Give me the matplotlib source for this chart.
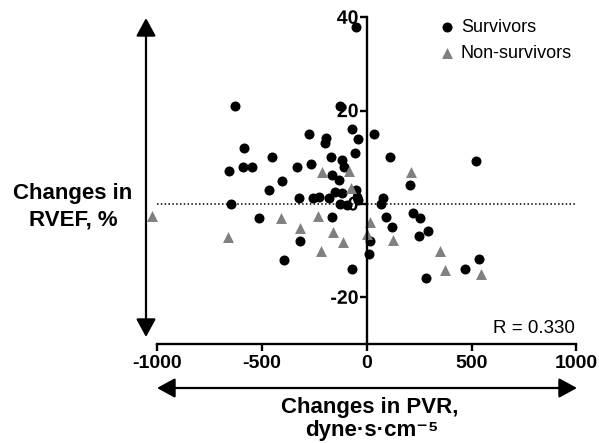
"""
plot.py
-------
Changes in RVEF against changes in PVR, survivors vs non-survivors.
"""

import matplotlib
matplotlib.use("Agg")
import matplotlib.pyplot as plt
import matplotlib.patheffects as pe
from matplotlib.patches import FancyArrowPatch

plt.rcParams["font.family"] = ["Liberation Sans", "DejaVu Sans"]
plt.rcParams["axes.unicode_minus"] = False


# --------------------------------------------------------------------
# Data
# --------------------------------------------------------------------

surv_pvr = [
    -50, -627, -127, -274, -194, -199, -72, -43, 35, -585,
    -454, -55, -172, -117, -655, -589, -547, -332, -266, -108,
    -165, -131, -403, -465, -53, -151, -120, -324, -258, -226,
    -181, -128, -95, -40, -48, -649, 79, 66, 522, 111,
    206, -513, -167, -320, -395, -71, 17, 10, 91, 119,
    219, 254, 248, 293, 281, 470, 533,
]

surv_rvef = [
    38, 21, 21, 15, 14.2, 13, 16, 14, 15, 12,
    10, 11, 10, 9.4, 7, 8, 8, 8, 8.6, 8,
    6.2, 5.1, 5, 3.1, 3.1, 2.6, 2.4, 1.2, 1.2, 1.6,
    1.2, 0.1, -0.3, 0.9, 1.5, 0.1, 1.2, 0.1, 9.1, 10.1,
    4.1, -2.9, -2.8, -7.9, -12, -13.9, -7.9, -10.8, -2.8, -4.9,
    -1.9, -2.9, -6.9, -5.8, -15.8, -13.9, -11.8,
]

nonsurv_pvr = [
    -1024, -663, -411, -319, -232, -220, -159, -115, -211, -85,
    -77, 15, 3, 127, 211, 349, 373, 545,
]

nonsurv_rvef = [
    -2.5, -7.1, -3, -5.1, -2.5, -10, -6.1, -8.1, 6.8, 7,
    3.5, -3.9, -6.4, -7.7, 6.8, -10, -14.1, -15.1,
]

x_ticks = [-1000, -500, 0, 500, 1000]
y_ticks = [-20, 0, 20, 40]

r_value = 0.330


# --------------------------------------------------------------------
# Figure
# --------------------------------------------------------------------

fig = plt.figure(figsize=(5.99, 4.43), dpi=100)

ax = fig.add_axes([0.2621, 0.2235, 0.7003, 0.7375])

# points sit under the axis layer so the tick labels stay on top
ax.scatter(surv_pvr, surv_rvef, s=52, marker="o", color="black",
           linewidths=0, label="Survivors", zorder=2, clip_on=False)

ax.scatter(nonsurv_pvr, nonsurv_rvef, s=62, marker="^", color="#808080",
           linewidths=0, label="Non-survivors", zorder=2, clip_on=False)

ax.axhline(0, color="black", linestyle=(0, (1, 1.5)), linewidth=1.1, zorder=1)

ax.set_xlim(-1000, 1000)
ax.set_ylim(-30, 40)
ax.set_xticks(x_ticks)
ax.set_yticks(y_ticks)

ax.spines["top"].set_visible(False)
ax.spines["right"].set_visible(False)
ax.spines["left"].set_position(("data", 0))

for side in ("left", "bottom"):
    ax.spines[side].set_linewidth(1.7)

ax.tick_params(axis="both", length=5, width=1.7, labelsize=14)
ax.tick_params(axis="x", pad=3)
ax.tick_params(axis="y", pad=1)

for label in ax.get_xticklabels():
    label.set_fontweight("bold")

# y labels overlap the point cloud, so give them a thin white halo
for label in ax.get_yticklabels():
    label.set_fontweight("bold")
    label.set_path_effects([pe.withStroke(linewidth=1.5, foreground="white")])

ax.legend(loc="upper left", bbox_to_anchor=(0.736, 0.958),
          bbox_transform=fig.transFigure, frameon=False, fontsize=13,
          handlelength=0.7, handletextpad=0.4, labelspacing=0.5,
          borderpad=0, borderaxespad=0)

ax.text(0.997, 0.034, f"R = {r_value:.3f}", transform=ax.transAxes,
        ha="right", va="baseline", fontsize=13.5)


# --------------------------------------------------------------------
# Axis titles and direction arrows
# --------------------------------------------------------------------

fig.text(73 / 599, 1 - 207 / 443, "Changes in\nRVEF, %", ha="center",
         va="center", fontsize=16, fontweight="bold", linespacing=1.35)

fig.text(370 / 599, 1 - 413 / 443, "Changes in PVR,", ha="center",
         va="baseline", fontsize=16, fontweight="bold")

fig.text(372 / 599, 1 - 436 / 443, "dyne·s·cm⁻⁵", ha="center",
         va="baseline", fontsize=16, fontweight="bold")

arrow_style = "<|-|>,head_length=1.1,head_width=0.6"

v_arrow = FancyArrowPatch((146 / 599, 1 - 18 / 443), (146 / 599, 1 - 337 / 443),
                          transform=fig.transFigure, arrowstyle=arrow_style,
                          mutation_scale=10, linewidth=1.6, color="black",
                          shrinkA=0, shrinkB=0)

h_arrow = FancyArrowPatch((157 / 599, 1 - 388 / 443), (577 / 599, 1 - 388 / 443),
                          transform=fig.transFigure, arrowstyle=arrow_style,
                          mutation_scale=10, linewidth=1.6, color="black",
                          shrinkA=0, shrinkB=0)

fig.add_artist(v_arrow)
fig.add_artist(h_arrow)

fig.savefig("out.png", dpi=100)
